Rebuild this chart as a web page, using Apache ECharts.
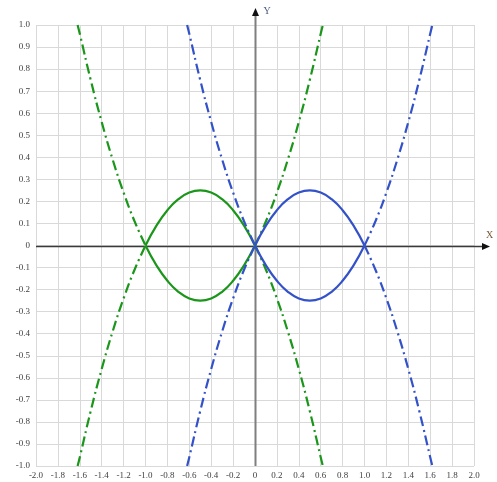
<!DOCTYPE html>
<html>
<head>
<meta charset="utf-8">
<script src="https://cdn.jsdelivr.net/npm/echarts@6/dist/echarts.min.js"></script>
<style>
  html, body { margin: 0; padding: 0; background: #fff; }
  #chart { width: 497px; height: 482px; }
</style>
</head>
<body>
<div id="chart"></div>
<script>
// y = -(x^2 + x) / y = x^2 + x on [-1, 0] (green, solid)
const greenSolidX     = [-1.0, -0.9, -0.8, -0.7, -0.6, -0.5, -0.4, -0.3, -0.2, -0.1, 0.0];
const greenSolidUpper = [0, 0.09, 0.16, 0.21, 0.24, 0.25, 0.24, 0.21, 0.16, 0.09, 0];
const greenSolidLower = [0, -0.09, -0.16, -0.21, -0.24, -0.25, -0.24, -0.21, -0.16, -0.09, 0];

// green dash-dot continuations
const greenDashLeftX    = [-1.62, -1.6, -1.5, -1.4, -1.3, -1.2, -1.1, -1.0];
const greenDashLeftUp   = [1.0, 0.96, 0.75, 0.56, 0.39, 0.24, 0.11, 0];
const greenDashLeftDown = [-1.0, -0.96, -0.75, -0.56, -0.39, -0.24, -0.11, 0];
const greenDashRightX    = [0.0, 0.1, 0.2, 0.3, 0.4, 0.5, 0.6, 0.62];
const greenDashRightUp   = [0, 0.11, 0.24, 0.39, 0.56, 0.75, 0.96, 1.0];
const greenDashRightDown = [0, -0.11, -0.24, -0.39, -0.56, -0.75, -0.96, -1.0];

// blue, solid on [0, 1]
const blueSolidX     = [0.0, 0.1, 0.2, 0.3, 0.4, 0.5, 0.6, 0.7, 0.8, 0.9, 1.0];
const blueSolidUpper = [0, 0.09, 0.16, 0.21, 0.24, 0.25, 0.24, 0.21, 0.16, 0.09, 0];
const blueSolidLower = [0, -0.09, -0.16, -0.21, -0.24, -0.25, -0.24, -0.21, -0.16, -0.09, 0];

// blue dash-dot continuations
const blueDashLeftX    = [-0.62, -0.6, -0.5, -0.4, -0.3, -0.2, -0.1, 0.0];
const blueDashLeftUp   = [1.0, 0.96, 0.75, 0.56, 0.39, 0.24, 0.11, 0];
const blueDashLeftDown = [-1.0, -0.96, -0.75, -0.56, -0.39, -0.24, -0.11, 0];
const blueDashRightX    = [1.0, 1.1, 1.2, 1.3, 1.4, 1.5, 1.6, 1.62];
const blueDashRightUp   = [0, 0.11, 0.24, 0.39, 0.56, 0.75, 0.96, 1.0];
const blueDashRightDown = [0, -0.11, -0.24, -0.39, -0.56, -0.75, -0.96, -1.0];

const GREEN = '#1a961a';
const BLUE = '#3352c9';
const DASHDOT = [10, 4, 2, 4];

function pairs(xs, ys) { return xs.map((x, i) => [x, ys[i]]); }

function curve(xs, ys, color, dashed) {
  return {
    type: 'line',
    data: pairs(xs, ys),
    smooth: true,
    showSymbol: false,
    clip: true,
    z: 3,
    lineStyle: { color: color, width: 2.2, type: dashed ? DASHDOT : 'solid' }
  };
}

const tickText = v => (Math.abs(v) < 1e-9 ? '0' : v.toFixed(1));
const labelFont = { fontFamily: 'Liberation Serif', fontSize: 9, color: '#404040' };

const chart = echarts.init(document.getElementById('chart'), null, { renderer: 'canvas' });
chart.setOption({
  animation: false,
  backgroundColor: '#ffffff',
  grid: { left: 36, right: 23, top: 25, bottom: 16, containLabel: false },
  xAxis: {
    type: 'value', min: -2, max: 2, interval: 0.2,
    axisLine: { show: false, onZero: false },
    axisTick: { show: false },
    splitLine: { show: true, lineStyle: { color: '#d9d9d9', width: 1 } },
    axisLabel: Object.assign({ margin: 5, formatter: tickText }, labelFont)
  },
  yAxis: {
    type: 'value', min: -1, max: 1, interval: 0.1,
    axisLine: { show: false, onZero: false },
    axisTick: { show: false },
    splitLine: { show: true, lineStyle: { color: '#d9d9d9', width: 1 } },
    axisLabel: Object.assign({ margin: 6, formatter: tickText }, labelFont)
  },
  series: [
    curve(greenSolidX, greenSolidUpper, GREEN, false),
    curve(greenSolidX, greenSolidLower, GREEN, false),
    curve(greenDashLeftX, greenDashLeftUp, GREEN, true),
    curve(greenDashLeftX, greenDashLeftDown, GREEN, true),
    curve(greenDashRightX, greenDashRightUp, GREEN, true),
    curve(greenDashRightX, greenDashRightDown, GREEN, true),
    curve(blueSolidX, blueSolidUpper, BLUE, false),
    curve(blueSolidX, blueSolidLower, BLUE, false),
    curve(blueDashLeftX, blueDashLeftUp, BLUE, true),
    curve(blueDashLeftX, blueDashLeftDown, BLUE, true),
    curve(blueDashRightX, blueDashRightUp, BLUE, true),
    curve(blueDashRightX, blueDashRightDown, BLUE, true)
  ]
});

// Axes through the origin, with arrowheads reaching past the plot area
const o = chart.convertToPixel({ gridIndex: 0 }, [0, 0]);
const lt = chart.convertToPixel({ gridIndex: 0 }, [-2, 1]);
const rb = chart.convertToPixel({ gridIndex: 0 }, [2, -1]);
const ox = Math.round(o[0]) + 0.5, oy = Math.round(o[1]) + 0.5;
const xEnd = rb[0] + 16, yEnd = lt[1] - 17;

chart.setOption({
  graphic: [
    { type: 'line', z: 2, shape: { x1: lt[0], y1: oy, x2: xEnd - 6, y2: oy },
      style: { stroke: '#3a3a3a', lineWidth: 1.3 } },
    { type: 'polygon', z: 2, shape: { points: [[xEnd, oy], [xEnd - 8, oy - 3.5], [xEnd - 8, oy + 3.5]] },
      style: { fill: '#111' } },
    { type: 'line', z: 2, shape: { x1: ox, y1: rb[1], x2: ox, y2: yEnd + 6 },
      style: { stroke: '#7f7f7f', lineWidth: 2 } },
    { type: 'polygon', z: 2, shape: { points: [[ox, yEnd], [ox - 3.5, yEnd + 8], [ox + 3.5, yEnd + 8]] },
      style: { fill: '#111' } },
    { type: 'text', z: 2, left: ox + 8, top: yEnd - 2,
      style: { text: 'Y', fontFamily: 'Liberation Serif', fontSize: 10, fill: '#4a5a7a' } },
    { type: 'text', z: 2, left: xEnd - 4, top: oy - 16,
      style: { text: 'X', fontFamily: 'Liberation Serif', fontSize: 10, fill: '#7a5a3a' } }
  ]
});
</script>
</body>
</html>
